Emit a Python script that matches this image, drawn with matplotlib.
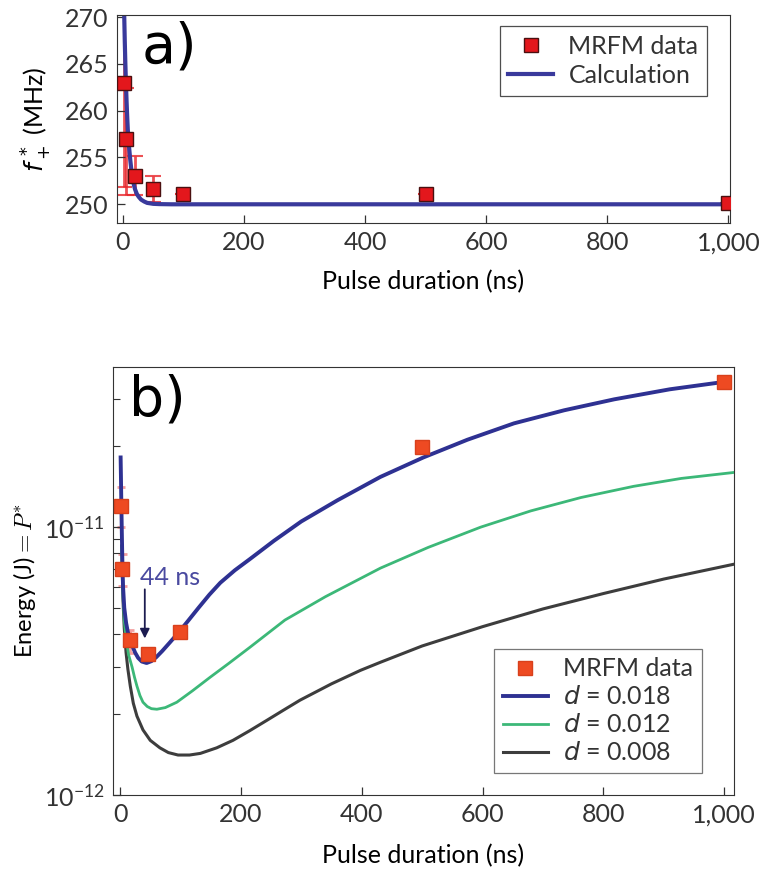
import matplotlib
matplotlib.use("Agg")
import matplotlib.pyplot as plt
from matplotlib.ticker import FixedLocator, FuncFormatter, LogLocator, NullFormatter

plt.rcParams['font.family'] = ['Lato', 'DejaVu Sans']
plt.rcParams['axes.edgecolor'] = '#333333'
plt.rcParams['text.color'] = '#333333'
plt.rcParams['xtick.color'] = '#333333'
plt.rcParams['ytick.color'] = '#333333'

# --- panel a: resonance frequency vs pulse duration ---
pulse_a = [2, 5, 20, 50, 100, 500, 1000]
freq_a = [263.0, 257.0, 253.0, 251.6, 251.1, 251.1, 250.1]
freq_err_lo = [11.2, 6.0, 2.0, 1.4, 0, 0, 0]
freq_err_hi = [9.0, 5.4, 2.2, 1.4, 0, 0, 0]

calc_t = [2, 3, 4, 5, 6, 7, 8, 10, 12, 14, 16, 18, 20, 23, 26, 30, 35, 40, 50, 60,
          80, 100, 300, 600, 1003]
calc_f = [270.5, 267.5, 265.0, 262.8, 261.0, 259.4, 258.0, 256.2, 254.8, 253.6, 252.7,
          252.1, 251.6, 251.1, 250.8, 250.5, 250.3, 250.15, 250.05, 250.02,
          250.0, 250.0, 250.0, 250.0, 250.0]

# --- panel b: energy vs pulse duration ---
pulse_b = [2, 4, 16, 46, 100, 500, 1000]
energy_b = [1.2e-11, 6.97e-12, 3.8e-12, 3.36e-12, 4.06e-12, 1.99e-11, 3.47e-11]
energy_lo = [1.0e-11, 6.02e-12, 3.39e-12, 3.2e-12, 4.06e-12, 1.99e-11, 3.47e-11]
energy_hi = [1.41e-11, 7.93e-12, 4.13e-12, 3.5e-12, 4.06e-12, 1.99e-11, 3.47e-11]

t_018 = [1, 1.5, 2, 3, 4, 5, 7, 10, 13, 16, 20, 25, 30, 36, 44, 52, 60, 70, 82, 96,
         112, 130, 148, 166, 190, 215, 255, 300, 360, 431, 502, 575, 652, 735, 818,
         910, 1006]
e_018 = [1.82e-11, 1.55e-11, 1.3e-11, 9.5e-12, 7.2e-12, 6.0e-12, 5.0e-12, 4.4e-12,
         4.05e-12, 3.85e-12, 3.62e-12, 3.4e-12, 3.25e-12, 3.15e-12, 3.11e-12, 3.16e-12,
         3.27e-12, 3.45e-12, 3.7e-12, 4.02e-12, 4.45e-12, 5.0e-12, 5.6e-12, 6.2e-12,
         6.9e-12, 7.6e-12, 8.9e-12, 1.05e-11, 1.26e-11, 1.54e-11, 1.82e-11, 2.12e-11,
         2.44e-11, 2.73e-11, 3.0e-11, 3.27e-11, 3.5e-11]

t_012 = [3, 4, 5, 7, 10, 14, 20, 24, 28, 33, 38, 45, 52, 61, 75, 94, 120, 149, 180,
         215, 273, 340, 431, 510, 597, 680, 763, 850, 929, 1016]
e_012 = [8.5e-12, 6.6e-12, 5.5e-12, 4.5e-12, 3.85e-12, 3.35e-12, 3.0e-12, 2.75e-12,
         2.55e-12, 2.35e-12, 2.22e-12, 2.14e-12, 2.1e-12, 2.09e-12, 2.12e-12, 2.22e-12,
         2.45e-12, 2.75e-12, 3.1e-12, 3.56e-12, 4.5e-12, 5.5e-12, 7.03e-12, 8.4e-12,
         1.0e-11, 1.15e-11, 1.29e-11, 1.42e-11, 1.52e-11, 1.6e-11]

t_008 = [3, 4, 5, 7, 10, 13, 17, 22, 28, 38, 50, 66, 80, 96, 115, 133, 160, 187, 215,
         243, 270, 298, 350, 398, 431, 500, 600, 700, 800, 900, 1016]
e_008 = [8.5e-12, 6.5e-12, 5.3e-12, 4.2e-12, 3.4e-12, 2.95e-12, 2.55e-12, 2.2e-12,
         1.97e-12, 1.75e-12, 1.6e-12, 1.5e-12, 1.44e-12, 1.41e-12, 1.41e-12, 1.43e-12,
         1.5e-12, 1.6e-12, 1.74e-12, 1.9e-12, 2.07e-12, 2.26e-12, 2.6e-12, 2.92e-12,
         3.13e-12, 3.6e-12, 4.25e-12, 4.95e-12, 5.65e-12, 6.4e-12, 7.27e-12]

fig = plt.figure(figsize=(7.59, 8.77), dpi=100)
ax1 = fig.add_axes([0.154, 0.7457, 0.808, 0.237])
ax2 = fig.add_axes([0.1489, 0.0935, 0.818, 0.488])

fs = 18
tick_kw = dict(direction='in', length=6, width=0.9, labelsize=fs, pad=6)

# panel a
ax1.errorbar(pulse_a, freq_a, yerr=[freq_err_lo, freq_err_hi], fmt='none',
             ecolor='#e8262b', elinewidth=2, capsize=6, capthick=1.5, alpha=0.8, zorder=1)
ax1.plot(calc_t, calc_f, color='#3a3a9c', lw=3, zorder=2, label='Calculation')
ax1.plot(pulse_a, freq_a, 's', ms=10, mfc='#e3171c', mec='#4a1010', mew=1,
         zorder=3, label='MRFM data')
ax1.set_xlim(-10, 1003)
ax1.set_ylim(248, 270.2)
ax1.xaxis.set_major_locator(FixedLocator([0, 200, 400, 600, 800, 1000]))
ax1.xaxis.set_major_formatter(FuncFormatter(lambda v, p: '{:,}'.format(int(v))))
ax1.yaxis.set_major_locator(FixedLocator([250, 255, 260, 265, 270]))
ax1.tick_params(**tick_kw)
ax1.set_xlabel('Pulse duration (ns)', fontsize=fs, labelpad=11)
ax1.set_ylabel(r'$f_+^{\,*}$ (MHz)', fontsize=fs, math_fontfamily='dejavusans', labelpad=8)
ax1.text(0.04, 0.975, 'a)', transform=ax1.transAxes, fontsize=40,
         family='DejaVu Sans', color='black', va='top', ha='left')
h, l = ax1.get_legend_handles_labels()
leg1 = ax1.legend(h[::-1], l[::-1], loc='upper right', bbox_to_anchor=(0.9625, 0.947),
                  borderaxespad=0, fontsize=fs, frameon=True, fancybox=False,
                  handlelength=1.8, handletextpad=0.6, borderpad=0.35, labelspacing=0.25)
leg1.get_frame().set_edgecolor('#222222')
leg1.get_frame().set_linewidth(0.9)

# panel b
ax2.set_yscale('log')
ax2.vlines(pulse_b, energy_lo, energy_hi, colors='#f3a0a0', lw=2, zorder=1)
ax2.hlines(energy_lo[:3] + energy_hi[:3], [x - 7 for x in pulse_b[:3]] * 2,
           [x + 7 for x in pulse_b[:3]] * 2, colors='#f3a0a0', lw=2, zorder=1)
ax2.plot(t_018, e_018, color='#2e3192', lw=2.8, zorder=4, label=r'$d$ = 0.018')
ax2.plot(t_012, e_012, color='#3cb878', lw=2, zorder=3, label=r'$d$ = 0.012')
ax2.plot(t_008, e_008, color='#3d3d3d', lw=2.2, zorder=2, label=r'$d$ = 0.008')
ax2.plot(pulse_b, energy_b, 's', ms=10, mfc='#ee4a22', mec='#d8401c', mew=1,
         zorder=5, label='MRFM data')
ax2.set_xlim(-11.6, 1016)
ax2.set_ylim(1e-12, 3.96e-11)
ax2.xaxis.set_major_locator(FixedLocator([0, 200, 400, 600, 800, 1000]))
ax2.xaxis.set_major_formatter(FuncFormatter(lambda v, p: '{:,}'.format(int(v))))
ax2.yaxis.set_major_locator(FixedLocator([1e-12, 1e-11]))
ax2.yaxis.set_minor_locator(LogLocator(base=10, subs=range(2, 10), numticks=10))
ax2.yaxis.set_minor_formatter(NullFormatter())
ax2.tick_params(**tick_kw)
ax2.tick_params(which='minor', direction='in', length=5, width=0.8)
ax2.set_xlabel('Pulse duration (ns)', fontsize=fs, labelpad=13)
ax2.set_ylabel(r'Energy (J)$= P^{*}$', fontsize=17, math_fontfamily='cm', labelpad=4)
ax2.text(0.025, 0.985, 'b)', transform=ax2.transAxes, fontsize=40,
         family='DejaVu Sans', color='black', va='top', ha='left')
ax2.annotate('', xy=(41, 3.75e-12), xytext=(41, 6.0e-12),
             arrowprops=dict(arrowstyle='-|>', color='#1c1c50', lw=1.3, mutation_scale=14))
ax2.text(33, 6.5e-12, '44 ns', color='#4a4aa0', fontsize=18, ha='left', va='center')
h, l = ax2.get_legend_handles_labels()
leg2 = ax2.legend([h[3], h[0], h[1], h[2]], [l[3], l[0], l[1], l[2]], loc='lower right',
                  bbox_to_anchor=(0.948, 0.051), borderaxespad=0, fontsize=fs,
                  frameon=True, fancybox=False, handlelength=1.8, handletextpad=0.6,
                  borderpad=0.35, labelspacing=0.2)
leg2.get_frame().set_edgecolor('#555555')
leg2.get_frame().set_linewidth(0.9)

fig.savefig('out.png', dpi=100)
